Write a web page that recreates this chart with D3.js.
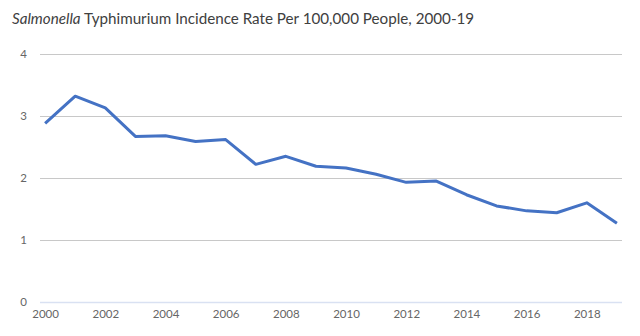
<!DOCTYPE html>
<html>
<head>
<meta charset="utf-8">
<script src="https://cdn.jsdelivr.net/npm/d3@7"></script>
<style>
	body { margin: 0; background: #fff; }
	svg text { font-family: Lato, "Open Sans", sans-serif; }
</style>
</head>
<body>
<div id="chart"></div>
<script>
	var years = [2000, 2001, 2002, 2003, 2004, 2005, 2006, 2007, 2008, 2009,
		2010, 2011, 2012, 2013, 2014, 2015, 2016, 2017, 2018, 2019];
	var rates = [2.88, 3.32, 3.13, 2.67, 2.68, 2.59, 2.62, 2.22, 2.35, 2.19,
		2.16, 2.06, 1.93, 1.95, 1.73, 1.55, 1.47, 1.44, 1.60, 1.27];
	var yTicks = [0, 1, 2, 3, 4];
	var xTicks = [2000, 2002, 2004, 2006, 2008, 2010, 2012, 2014, 2016, 2018];

	var width = 640, height = 336;
	var margin = {left: 40, right: 18, top: 54, bottom: 34};

	var svg = d3.select("#chart").append("svg")
		.attr("width", width)
		.attr("height", height);

	// title, first word in italics
	var title = svg.append("text")
		.attr("x", 12)
		.attr("y", 24)
		.style("font-size", "15.2px")
		.style("fill", "#404040");
	title.append("tspan").style("font-style", "italic").text("Salmonella");
	title.append("tspan").text(" Typhimurium Incidence Rate Per 100,000 People, 2000-19");

	var x = d3.scaleLinear()
		.domain([1999.83, 2019.17])
		.range([margin.left, width - margin.right]);

	var y = d3.scaleLinear()
		.domain([0, 4])
		.range([height - margin.bottom, margin.top]);

	// gridlines + y labels
	var yAxis = svg.append("g")
		.attr("transform", `translate(${margin.left},0)`)
		.call(d3.axisLeft(y).tickValues(yTicks)
			.tickSize(-(width - margin.left - margin.right))
			.tickFormat(d3.format("d")));
	yAxis.select(".domain").remove();
	yAxis.selectAll(".tick line")
		.attr("stroke", d => d === 0 ? "#d9e1f2" : "#c8c8c8")
		.attr("stroke-width", d => d === 0 ? 1.5 : 1);
	yAxis.selectAll(".tick text")
		.attr("x", -13)
		.style("font-size", "11.5px")
		.style("fill", "#666");

	// x labels
	var xAxis = svg.append("g")
		.attr("transform", `translate(0,${height - margin.bottom})`)
		.call(d3.axisBottom(x).tickValues(xTicks).tickSize(0).tickPadding(8)
			.tickFormat(d3.format("d")));
	xAxis.select(".domain").remove();
	xAxis.selectAll(".tick text")
		.style("font-size", "11.5px")
		.style("fill", "#666");

	var line = d3.line()
		.x((d, i) => x(years[i]))
		.y(d => y(d));

	svg.append("path")
		.attr("d", line(rates))
		.attr("fill", "none")
		.attr("stroke", "#4472c4")
		.attr("stroke-width", 3)
		.attr("stroke-linejoin", "round");
</script>
</body>
</html>
